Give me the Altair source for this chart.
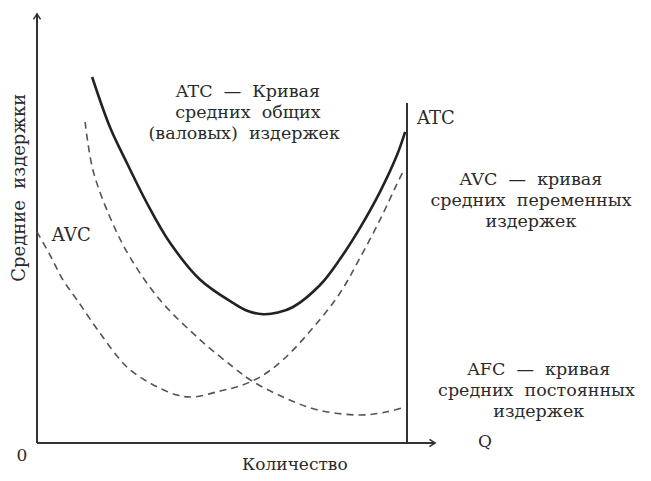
import altair as alt
import pandas as pd

# ---- curve data (Q in units where the vertical line is Q=100; cost units) ----
atc_q = [14.9, 19.7, 24.3, 29.7, 36.0, 44.1, 53.0, 57.0, 61.1, 65.1, 69.2, 76.5, 81.9, 87.3, 92.7, 97.3, 99.5]
atc_c = [91.5, 79.0, 70.0, 60.0, 50.0, 40.8, 35.0, 33.0, 32.2, 32.6, 34.0, 39.5, 46.0, 53.8, 62.8, 72.0, 77.8]

avc_q = [0.0, 3.5, 7.0, 10.8, 17.0, 24.3, 30.5, 37.8, 42.2, 49.5, 54.9, 60.3, 66.5, 74.6, 81.9, 87.3, 92.7, 97.3, 98.9]
avc_c = [52.8, 47.0, 40.8, 35.8, 27.5, 19.0, 15.0, 12.0, 11.5, 13.0, 14.3, 16.5, 20.8, 28.8, 37.5, 46.3, 55.8, 64.8, 67.8]

afc_q = [13.0, 15.1, 19.7, 25.1, 33.2, 44.1, 53.0, 58.1, 66.5, 75.7, 87.3, 94.6, 99.5]
afc_c = [80.3, 68.3, 56.5, 46.5, 35.8, 25.8, 19.0, 15.5, 11.5, 8.3, 7.0, 7.8, 9.0]

# ---- text (double spaces kept with non-breaking spaces) ----
S = "\u00a0\u00a0"
block_texts = [f"ATC{S}—{S}Кривая", f"средних{S}общих", f"(валовых){S}издержек",
               f"AVC{S}—{S}кривая", f"средних{S}переменных", "издержек",
               f"AFC{S}—{S}кривая", f"средних{S}постоянных", "издержек"]
block_q = [57.0, 57.0, 56.0, 133.5, 133.5, 133.5, 135.6, 135.0, 135.6]
block_c = [87.8, 82.5, 77.3, 65.8, 60.5, 55.3, 18.3, 13.0, 7.8]

small_texts = ["ATC", "AVC"]
small_q = [102.7, 4.0]
small_c = [81.0, 51.8]

axis_texts = ["0", "Q", "Количество"]
axis_q = [-4.1, 121.1, 69.7]
axis_c = [-3.3, 0.3, -5.5]

ytitle = [f"Средние{S}издержки"]
ytitle_q = [-4.5]
ytitle_c = [63.8]

# ---- frame lines ----
rule_q = [0.0, 0.0, 100.0]
rule_c = [0.0, 0.0, 0.0]
rule_q2 = [0.0, 107.6, 100.0]
rule_c2 = [107.3, 0.0, 85.0]

X = lambda f="q": alt.X(f"{f}:Q", scale=alt.Scale(domain=[0, 100], nice=False), axis=None)
Y = lambda f="c": alt.Y(f"{f}:Q", scale=alt.Scale(domain=[0, 100], nice=False), axis=None)

atc = alt.Chart(pd.DataFrame({"q": atc_q, "c": atc_c})).mark_line(
    color="#222", strokeWidth=2.6, interpolate="catmull-rom").encode(x=X(), y=Y())
avc = alt.Chart(pd.DataFrame({"q": avc_q, "c": avc_c})).mark_line(
    color="#555", strokeWidth=1.6, strokeDash=[7, 5], interpolate="catmull-rom").encode(x=X(), y=Y())
afc = alt.Chart(pd.DataFrame({"q": afc_q, "c": afc_c})).mark_line(
    color="#555", strokeWidth=1.6, strokeDash=[7, 5], interpolate="catmull-rom").encode(x=X(), y=Y())

rules = alt.Chart(pd.DataFrame({"q": rule_q, "c": rule_c, "q2": rule_q2, "c2": rule_c2})).mark_rule(
    color="#333", strokeWidth=2).encode(x=X(), y=Y(), x2="q2:Q", y2="c2:Q")

arrow_up = alt.Chart(pd.DataFrame({"q": [0.0], "c": [107.3]})).mark_point(
    shape="M -1 1.6 L 0 0 L 1 1.6", filled=False, size=50, color="#333", strokeWidth=1.5, opacity=1
).encode(x=X(), y=Y())
arrow_right = alt.Chart(pd.DataFrame({"q": [107.6], "c": [0.0]})).mark_point(
    shape="M -1.6 -1 L 0 0 L -1.6 1", filled=False, size=50, color="#333", strokeWidth=1.5, opacity=1
).encode(x=X(), y=Y())

font = "DejaVu Serif"
blocks = alt.Chart(pd.DataFrame({"q": block_q, "c": block_c, "t": block_texts})).mark_text(
    font=font, fontSize=17.5, color="#2a2a2a", align="center", baseline="middle"
).encode(x=X(), y=Y(), text="t:N")
smalls = alt.Chart(pd.DataFrame({"q": small_q, "c": small_c, "t": small_texts})).mark_text(
    font=font, fontSize=18, color="#2a2a2a", align="left", baseline="middle"
).encode(x=X(), y=Y(), text="t:N")
axtexts = alt.Chart(pd.DataFrame({"q": axis_q, "c": axis_c, "t": axis_texts})).mark_text(
    font=font, fontSize=17, color="#2a2a2a", align="center", baseline="middle"
).encode(x=X(), y=Y(), text="t:N")
ytext = alt.Chart(pd.DataFrame({"q": ytitle_q, "c": ytitle_c, "t": ytitle})).mark_text(
    font=font, fontSize=18, color="#2a2a2a", align="center", baseline="middle", angle=270
).encode(x=X(), y=Y(), text="t:N")

chart = alt.layer(rules, arrow_up, arrow_right, afc, avc, atc, blocks, smalls, axtexts, ytext).properties(
    width=370, height=400,
    autosize=alt.AutoSizeParams(type="none"),
    padding={"left": 29, "top": 35, "right": 236, "bottom": 30},
    background="white",
).configure_view(strokeWidth=0)

chart.save("out.html", embed_options={"renderer": "svg", "actions": False})
